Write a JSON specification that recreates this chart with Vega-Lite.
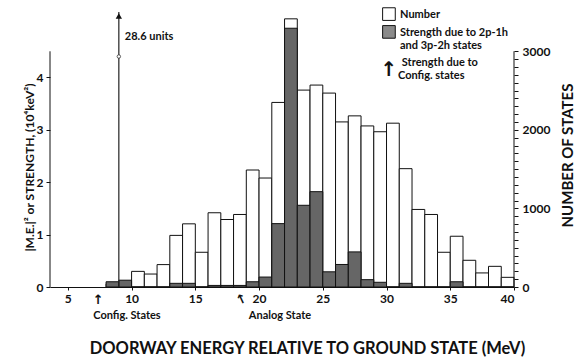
{
  "$schema": "https://vega.github.io/schema/vega-lite/v6.json",
  "width": 464,
  "height": 275,
  "autosize": {"type": "none"},
  "padding": {"left": 50, "top": 12, "right": 64, "bottom": 75},
  "background": "white",
  "datasets": {
    "bins": [
      {"lo": 8, "hi": 9, "number": 40, "strength": 0.10},
      {"lo": 9, "hi": 10, "number": 60, "strength": 0.13},
      {"lo": 10, "hi": 11, "number": 199, "strength": 0},
      {"lo": 11, "hi": 12, "number": 165, "strength": 0},
      {"lo": 12, "hi": 13, "number": 285, "strength": 0},
      {"lo": 13, "hi": 14, "number": 657, "strength": 0.07},
      {"lo": 14, "hi": 15, "number": 804, "strength": 0.07},
      {"lo": 15, "hi": 16, "number": 442, "strength": 0},
      {"lo": 16, "hi": 17, "number": 945, "strength": 0.03},
      {"lo": 17, "hi": 18, "number": 859, "strength": 0.03},
      {"lo": 18, "hi": 19, "number": 923, "strength": 0.03},
      {"lo": 19, "hi": 20, "number": 1489, "strength": 0.10},
      {"lo": 20, "hi": 21, "number": 1387, "strength": 0.19},
      {"lo": 21, "hi": 22, "number": 2349, "strength": 1.21},
      {"lo": 22, "hi": 23, "number": 3413, "strength": 4.94},
      {"lo": 23, "hi": 24, "number": 2506, "strength": 1.56},
      {"lo": 24, "hi": 25, "number": 2570, "strength": 1.82},
      {"lo": 25, "hi": 26, "number": 2468, "strength": 0.29},
      {"lo": 26, "hi": 27, "number": 2101, "strength": 0.43},
      {"lo": 27, "hi": 28, "number": 2178, "strength": 0.67},
      {"lo": 28, "hi": 29, "number": 2050, "strength": 0.14},
      {"lo": 29, "hi": 30, "number": 1976, "strength": 0.09},
      {"lo": 30, "hi": 31, "number": 2085, "strength": 0},
      {"lo": 31, "hi": 32, "number": 1506, "strength": 0.07},
      {"lo": 32, "hi": 33, "number": 987, "strength": 0},
      {"lo": 33, "hi": 34, "number": 923, "strength": 0},
      {"lo": 34, "hi": 35, "number": 442, "strength": 0},
      {"lo": 35, "hi": 36, "number": 646, "strength": 0.10},
      {"lo": 36, "hi": 37, "number": 340, "strength": 0},
      {"lo": 37, "hi": 38, "number": 179, "strength": 0},
      {"lo": 38, "hi": 39, "number": 263, "strength": 0},
      {"lo": 39, "hi": 40, "number": 123, "strength": 0}
    ],
    "config_state": [
      {"energy": 9, "strength": 28.6, "label": "28.6 units"}
    ],
    "one": [{}]
  },
  "layer": [
    {
      "data": {"name": "bins"},
      "mark": {"type": "bar", "fill": "white", "stroke": "#111", "strokeWidth": 1},
      "encoding": {
        "x": {
          "field": "lo",
          "type": "quantitative",
          "scale": {"domain": [3.6, 40], "nice": false, "zero": false},
          "axis": {
            "values": [5, 10, 15, 20, 25, 30, 35, 40],
            "title": "DOORWAY ENERGY RELATIVE TO GROUND STATE (MeV)",
            "titleFontSize": 16.5,
            "titleX": 257,
            "titleY": 61,
            "titleAlign": "center",
            "titleBaseline": "middle",
            "tickSize": 3,
            "labelPadding": 3
          }
        },
        "x2": {"field": "hi"},
        "y": {
          "field": "number",
          "type": "quantitative",
          "scale": {"domain": [0, 3500], "nice": false},
          "axis": {
            "orient": "right",
            "values": [0, 100, 200, 300, 400, 500, 600, 700, 800, 900, 1000, 1100, 1200, 1300, 1400, 1500, 1600, 1700, 1800, 1900, 2000, 2100, 2200, 2300, 2400, 2500, 2600, 2700, 2800, 2900, 3000],
            "labelExpr": "datum.value % 1000 === 0 ? format(datum.value, 'd') : ''",
            "labelOverlap": false,
            "domain": false,
            "tickSize": 4,
            "labelPadding": 4,
            "title": "NUMBER OF STATES",
            "titleFontSize": 15,
            "titleAngle": 270,
            "titleX": 53,
            "titleY": 143,
            "titleAlign": "center",
            "titleBaseline": "middle"
          }
        },
        "y2": {"datum": 0}
      }
    },
    {
      "layer": [
        {
          "data": {"name": "bins"},
          "mark": {"type": "bar", "fill": "#666666", "stroke": "#111", "strokeWidth": 1},
          "encoding": {
            "x": {"field": "lo", "type": "quantitative"},
            "x2": {"field": "hi"},
            "y": {
              "field": "strength",
              "type": "quantitative",
              "scale": {"domain": [0, 5.25], "nice": false, "clamp": true},
              "axis": {
                "orient": "left",
                "values": [0, 0.5, 1, 1.5, 2, 2.5, 3, 3.5, 4, 4.5],
                "labelExpr": "datum.value % 1 === 0 ? format(datum.value, 'd') : ''",
                "labelOverlap": false,
                "domain": false,
                "tickSize": 4,
                "labelPadding": 3,
                "title": "|M.E.|² or STRENGTH, (10⁴keV²)",
                "titleFontSize": 12,
                "titleAngle": 270,
                "titleX": -21,
                "titleY": 155,
                "titleAlign": "center",
                "titleBaseline": "middle"
              }
            },
            "y2": {"datum": 0}
          }
        },
        {
          "data": {"name": "one"},
          "mark": {"type": "rule", "color": "#111", "strokeWidth": 1},
          "encoding": {
            "x": {"datum": 3.6, "type": "quantitative"},
            "y": {"datum": 0, "type": "quantitative"},
            "y2": {"datum": 4.5}
          }
        },
        {
          "data": {"name": "one"},
          "mark": {"type": "rule", "color": "#111", "strokeWidth": 1},
          "encoding": {
            "x": {"datum": 40, "type": "quantitative"},
            "y": {"datum": 0, "type": "quantitative"},
            "y2": {"datum": 4.5}
          }
        },
        {
          "data": {"name": "config_state"},
          "mark": {"type": "rule", "color": "#222", "strokeWidth": 1.2},
          "encoding": {
            "x": {"field": "energy", "type": "quantitative"},
            "y": {"field": "strength", "type": "quantitative"},
            "y2": {"datum": 0}
          }
        },
        {
          "data": {"name": "config_state"},
          "mark": {"type": "point", "shape": "triangle-up", "size": 40, "filled": true, "color": "#111", "opacity": 1, "yOffset": 4},
          "encoding": {
            "x": {"field": "energy", "type": "quantitative"},
            "y": {"field": "strength", "type": "quantitative"}
          }
        },
        {
          "data": {"name": "config_state"},
          "mark": {"type": "point", "shape": "circle", "size": 12, "filled": false, "stroke": "#333", "strokeWidth": 0.8, "fill": "white", "opacity": 1},
          "encoding": {
            "x": {"field": "energy", "type": "quantitative"},
            "y": {"datum": 4.4, "type": "quantitative"}
          }
        },
        {
          "data": {"name": "config_state"},
          "mark": {"type": "text", "align": "left", "baseline": "middle", "dx": 6, "dy": 25, "fontSize": 11},
          "encoding": {
            "x": {"field": "energy", "type": "quantitative"},
            "y": {"field": "strength", "type": "quantitative"},
            "text": {"field": "label"}
          }
        },
        {
          "data": {"name": "one"},
          "mark": {"type": "text", "align": "center", "baseline": "middle", "dy": 29, "fontSize": 11},
          "encoding": {
            "x": {"datum": 9.64, "type": "quantitative"},
            "y": {"datum": 0, "type": "quantitative"},
            "text": {"value": "Config. States"}
          }
        },
        {
          "data": {"name": "one"},
          "mark": {"type": "text", "align": "center", "baseline": "middle", "dy": 29, "fontSize": 11},
          "encoding": {
            "x": {"datum": 21.64, "type": "quantitative"},
            "y": {"datum": 0, "type": "quantitative"},
            "text": {"value": "Analog State"}
          }
        },
        {
          "data": {"name": "one"},
          "mark": {"type": "text", "align": "center", "baseline": "middle", "dy": 13, "fontSize": 13, "font": "DejaVu Sans"},
          "encoding": {
            "x": {"datum": 7.39, "type": "quantitative"},
            "y": {"datum": 0, "type": "quantitative"},
            "text": {"value": "↑"}
          }
        },
        {
          "data": {"name": "one"},
          "mark": {"type": "text", "align": "center", "baseline": "middle", "dy": 14, "angle": -25, "fontSize": 13, "font": "DejaVu Sans"},
          "encoding": {
            "x": {"datum": 18.15, "type": "quantitative"},
            "y": {"datum": 0, "type": "quantitative"},
            "text": {"value": "↑"}
          }
        },
        {
          "data": {"name": "one"},
          "mark": {"type": "point", "shape": "square", "size": 160, "filled": true, "fill": "white", "stroke": "#111", "strokeWidth": 1, "opacity": 1},
          "encoding": {
            "x": {"datum": 30.19, "type": "quantitative"},
            "y": {"datum": 5.21, "type": "quantitative"}
          }
        },
        {
          "data": {"name": "one"},
          "mark": {"type": "point", "shape": "square", "size": 160, "filled": true, "fill": "#8a8a8a", "stroke": "#111", "strokeWidth": 1, "opacity": 1},
          "encoding": {
            "x": {"datum": 30.19, "type": "quantitative"},
            "y": {"datum": 4.87, "type": "quantitative"}
          }
        },
        {
          "data": {"name": "one"},
          "mark": {"type": "text", "align": "center", "baseline": "middle", "fontSize": 20, "font": "DejaVu Sans"},
          "encoding": {
            "x": {"datum": 30.19, "type": "quantitative"},
            "y": {"datum": 4.14, "type": "quantitative"},
            "text": {"value": "↑"}
          }
        },
        {
          "data": {"name": "one"},
          "mark": {"type": "text", "align": "left", "baseline": "middle", "fontSize": 11},
          "encoding": {
            "x": {"datum": 31.06, "type": "quantitative"},
            "y": {"datum": 5.19, "type": "quantitative"},
            "text": {"value": "Number"}
          }
        },
        {
          "data": {"name": "one"},
          "mark": {"type": "text", "align": "left", "baseline": "middle", "fontSize": 11},
          "encoding": {
            "x": {"datum": 31.06, "type": "quantitative"},
            "y": {"datum": 4.84, "type": "quantitative"},
            "text": {"value": "Strength due to 2p-1h"}
          }
        },
        {
          "data": {"name": "one"},
          "mark": {"type": "text", "align": "left", "baseline": "middle", "fontSize": 11},
          "encoding": {
            "x": {"datum": 31.06, "type": "quantitative"},
            "y": {"datum": 4.6, "type": "quantitative"},
            "text": {"value": "and 3p-2h states"}
          }
        },
        {
          "data": {"name": "one"},
          "mark": {"type": "text", "align": "left", "baseline": "middle", "fontSize": 11},
          "encoding": {
            "x": {"datum": 31.2, "type": "quantitative"},
            "y": {"datum": 4.28, "type": "quantitative"},
            "text": {"value": "Strength due to"}
          }
        },
        {
          "data": {"name": "one"},
          "mark": {"type": "text", "align": "left", "baseline": "middle", "fontSize": 11},
          "encoding": {
            "x": {"datum": 30.9, "type": "quantitative"},
            "y": {"datum": 4.03, "type": "quantitative"},
            "text": {"value": "Config. states"}
          }
        }
      ]
    }
  ],
  "resolve": {"scale": {"y": "independent"}, "axis": {"y": "independent"}},
  "config": {
    "view": {"stroke": null},
    "axis": {
      "grid": false,
      "labelFont": "Lato",
      "labelFontWeight": "bold",
      "labelFontSize": 12,
      "labelColor": "#111",
      "titleFont": "Lato",
      "titleFontWeight": "bold",
      "titleColor": "#111",
      "domainColor": "#111",
      "tickColor": "#111"
    },
    "text": {"font": "Lato", "fontWeight": "bold", "color": "#111"}
  }
}
